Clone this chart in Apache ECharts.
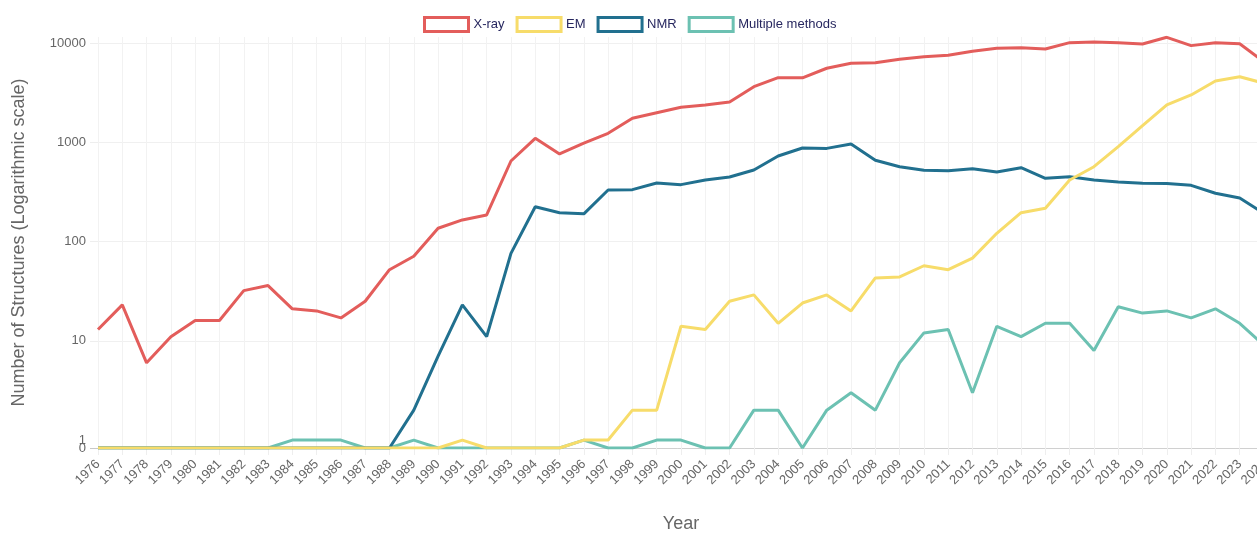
<!DOCTYPE html>
<html>
<head>
<meta charset="utf-8">
<script src="https://cdn.jsdelivr.net/npm/echarts@6/dist/echarts.min.js"></script>
<style>
html, body { margin: 0; padding: 0; background: #fff; }
#chart { width: 1257px; height: 533px; }
</style>
</head>
<body>
<div id="chart"></div>
<script>
var years = ['1976','1977','1978','1979','1980','1981','1982','1983','1984','1985','1986','1987',
    '1988','1989','1990','1991','1992','1993','1994','1995','1996','1997','1998','1999',
    '2000','2001','2002','2003','2004','2005','2006','2007','2008','2009','2010','2011',
    '2012','2013','2014','2015','2016','2017','2018','2019','2020','2021','2022','2023','2024'];

var xray = [13,23,6,11,16,16,32,36,21,20,17,25,
    52,71,136,165,185,647,1096,762,977,1231,1743,1985,
    2250,2373,2544,3630,4470,4450,5560,6240,6320,6840,7270,7510,
    8240,8840,8970,8700,10070,10230,10070,9770,11400,9400,10070,9800,6460];

var em = [0,0,0,0,0,0,0,0,0,0,0,0,
    0,0,0,1,0,0,0,0,1,1,2,2,
    14,13,25,29,15,24,29,20,43,44,57,52,
    68,121,195,216,417,567,902,1468,2373,2993,4140,4570,3930];

var nmr = [0,0,0,0,0,0,0,0,0,0,0,0,
    0,2,7,23,11,76,224,195,190,330,333,389,
    374,417,447,525,727,875,867,959,658,567,521,517,
    541,501,554,433,450,417,398,386,385,368,306,274,192];

var multi = [0,0,0,0,0,0,0,0,1,1,1,0,
    0,1,0,0,0,0,0,0,1,0,0,1,
    1,0,0,2,2,0,2,3,2,6,12,13,
    3,14,11,15,15,8,22,19,20,17,21,15,9];

var yTicks = [0, 1, 10, 100, 1000, 10000];

// log axis drawn on a value axis: zero sits a little under 1
var ZERO_POS = -0.08;
var Y_MAX = 4.06;
function toLog(v) { return v > 0 ? Math.log10(v) : ZERO_POS; }
var tickPos = yTicks.map(toLog);
var mainPos = tickPos.filter(function (p) { return p !== 0; });

var colors = ['#e35d5b', '#f7dc6a', '#21708f', '#6cc1b2'];
var names = ['X-ray', 'EM', 'NMR', 'Multiple methods'];
var sets = [xray, em, nmr, multi];

function fmtTick(v) {
    return v < 0 ? '0' : String(Math.round(Math.pow(10, v)));
}

var myChart = echarts.init(document.getElementById('chart'));
var option = {
    animation: false,
    textStyle: { fontFamily: 'Liberation Sans, Arial, sans-serif' },
    legend: {
        left: 418,
        top: 11,
        itemWidth: 44,
        itemHeight: 14,
        itemGap: 11,
        icon: 'rect',
        textStyle: { color: '#27275f', fontSize: 13 },
        data: names.map(function (n, i) {
            return {
                name: n,
                itemStyle: { color: '#fff', borderColor: colors[i], borderWidth: 3 }
            };
        })
    },
    grid: {
        left: 98, top: 37, width: 1166, height: 411,
        containLabel: false,
        outerBoundsMode: 'none'
    },
    xAxis: {
        type: 'category',
        boundaryGap: false,
        data: years,
        name: 'Year',
        nameLocation: 'middle',
        nameGap: 67,
        nameTextStyle: { color: '#666', fontSize: 18 },
        axisLine: { onZero: false, lineStyle: { color: '#d0d0d0' } },
        axisTick: { show: true, length: 7, lineStyle: { color: '#eee' } },
        axisLabel: { interval: 0, rotate: 45, margin: 14, color: '#666', fontSize: 13 },
        splitLine: { show: true, lineStyle: { color: '#f2f2f2' } }
    },
    yAxis: [{
        type: 'value',
        min: ZERO_POS,
        max: Y_MAX,
        name: 'Number of Structures (Logarithmic scale)',
        nameLocation: 'middle',
        nameGap: 70,
        nameTextStyle: { color: '#666', fontSize: 18 },
        axisLine: { show: false },
        axisTick: { show: true, length: 8, customValues: mainPos, lineStyle: { color: '#eee' } },
        axisLabel: {
            customValues: mainPos,
            showMinLabel: true,
            margin: 12,
            color: '#666',
            fontSize: 13,
            formatter: fmtTick
        },
        splitLine: { show: true, lineStyle: { color: '#f0f0f0' } }
    }, {
        // same scale again, only to carry the "1" label next to "0"
        type: 'value',
        position: 'left',
        min: ZERO_POS,
        max: Y_MAX,
        axisLine: { show: false },
        axisTick: { show: true, length: 8, customValues: [ZERO_POS], lineStyle: { color: '#c8c8c8' } },
        splitLine: { show: false },
        axisLabel: {
            customValues: [toLog(1)],
            showMinLabel: true,
            showMaxLabel: true,
            margin: 12,
            color: '#666',
            fontSize: 13,
            formatter: fmtTick
        }
    }],
    series: sets.map(function (arr, i) {
        return {
            name: names[i],
            type: 'line',
            yAxisIndex: 0,
            data: arr.map(toLog),
            symbol: 'none',
            z: 5 - i,
            lineStyle: { color: colors[i], width: 3 },
            itemStyle: { color: colors[i] }
        };
    })
};
myChart.setOption(option);
</script>
</body>
</html>
